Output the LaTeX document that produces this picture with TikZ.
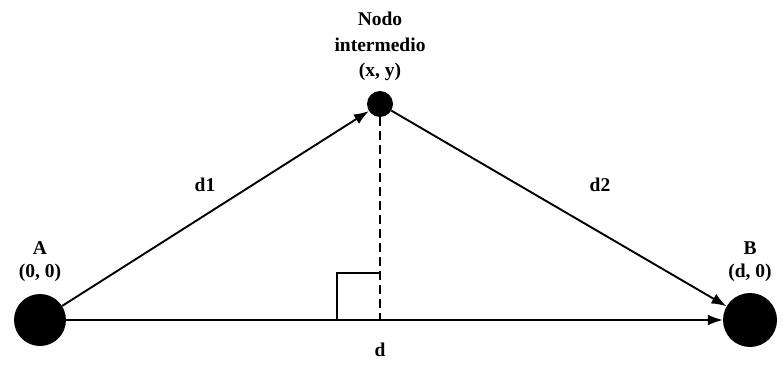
\documentclass[tikz,border=0pt]{standalone}
\usepackage{fontspec}
\setmainfont{Liberation Serif}
\usetikzlibrary{arrows.meta}
\begin{document}
\begin{tikzpicture}[x=1pt,y=-1pt,
  dot/.style={circle,fill=black,inner sep=0pt},
  lbl/.style={font=\fontsize{19.5}{22}\selectfont\bfseries,inner sep=0pt},
  conn/.style={line width=1.9pt,-{Latex[length=15pt,width=11pt]}}]
\useasboundingbox (0,0) rectangle (784,377);
\node[dot,minimum size=52pt] (A) at (40,320) {};
\node[dot,minimum size=54pt] (B) at (750,320) {};
\node[dot,minimum size=26pt] (N) at (380,104) {};
\coordinate (F) at (380,320);
\coordinate (R1) at (337,320);
\coordinate (R2) at (337,273);
\coordinate (R3) at (380,273);
\draw[conn] (A) -- (N);
\draw[conn] (N) -- (B);
\draw[conn] (A) -- (B);
\draw[line width=1.9pt,dash pattern=on 9pt off 5pt] (N) -- (F);
\draw[line width=1.7pt] (R1) -- (R2) -- (R3);
\node[lbl] (lA) at (40,248) {A};
\node[lbl] (cA) at (40,273) {(0, 0)};
\node[lbl] (lB) at (750,248) {B};
\node[lbl] (cB) at (750,273) {(d, 0)};
\node[lbl] (n1) at (380,19) {Nodo};
\node[lbl] (n2) at (380,45) {intermedio};
\node[lbl] (n3) at (380,72) {(x, y)};
\node[lbl] (d1) at (205,185) {d1};
\node[lbl] (d2) at (600,185) {d2};
\node[lbl] (d) at (380,350) {d};
\end{tikzpicture}
\end{document}
